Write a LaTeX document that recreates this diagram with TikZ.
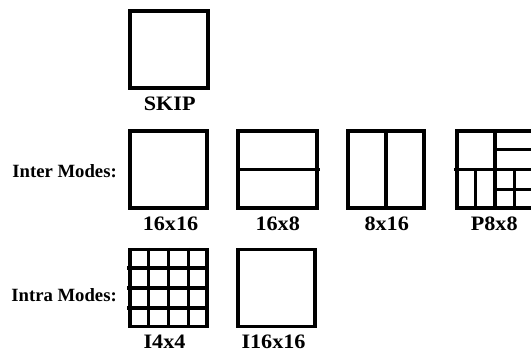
\documentclass[tikz,border=0pt]{standalone}
\usepackage{fontspec}
\setmainfont{Liberation Serif}
\newfontfamily\labfont[FakeStretch=1.08]{Liberation Serif}
\usetikzlibrary{calc}

\tikzset{
  blk/.style={draw, line width=3.3pt, rectangle, inner sep=0pt,
              minimum width=#1, minimum height=77pt},
  blk/.default=77pt,
  split/.style={line width=3.3pt},
  blklabel/.style={anchor=base, inner sep=0pt,
              font=\labfont\bfseries\fontsize{20.5}{22}\selectfont},
  rowlab/.style={anchor=base east, inner sep=0pt,
                 font=\bfseries\fontsize{18.7}{20}\selectfont}
}

\begin{document}
\begin{tikzpicture}[x=1pt, y=-1pt]
  \useasboundingbox (0,0) rectangle (531,352);

  % SKIP
  \node[blk=78pt] (skip) at (169,49.5) {};
  \node[blklabel] (skiplab) at (169.7,110.7) {SKIP};

  % inter partitions
  \node[rowlab] (inter) at (117,177.3) {Inter Modes:};

  \node[blk] (a) at (168.5,169.5) {};
  \node[blklabel] (alab) at (170.5,230.7) {16x16};

  \node[blk=79pt] (b) at (277.5,169.5) {};
  \draw[split] (b.west) -- ([xshift=1pt]b.east);
  \node[blklabel] (blab) at (277.7,230.7) {16x8};

  \node[blk=76pt] (c) at (386,169.5) {};
  \draw[split] (c.north) -- (c.south);
  \node[blklabel] (clab) at (386.7,230.7) {8x16};

  \node[blk=76pt] (p) at (495,169.5) {};
  \draw[split] (p.north) -- (p.south);
  \draw[split] ([xshift=-1pt]p.west) -- (p.east);
  % top right: two 8x4
  \draw[split] ($(p.north)!0.5!(p.center)$) -- ($(p.north east)!0.5!(p.east)$);
  % bottom left: two 4x8
  \draw[split] ($(p.west)!0.5!(p.center)$) -- ($(p.south west)!0.5!(p.south)$);
  % bottom right: four 4x4
  \draw[split] ($(p.center)!0.5!(p.east)$) -- ($(p.south)!0.5!(p.south east)$);
  \draw[split] ($(p.south)!0.5!(p.center)$) -- ($(p.south east)!0.5!(p.east)$);
  \node[blklabel] (plab) at (494.2,230.7) {P8x8};

  % intra partitions
  \node[rowlab] (intra) at (117,302) {Intra Modes:};

  \node[blk] (d) at (168.5,288) {};
  \foreach \f in {0.25,0.5,0.75} {
    \draw[split] ([xshift=-1pt]$(d.north west)!\f!(d.south west)$) -- ($(d.north east)!\f!(d.south east)$);
    \draw[split] ($(d.north west)!\f!(d.north east)$) -- ($(d.south west)!\f!(d.south east)$);
  }
  \node[blklabel] (dlab) at (164.5,349) {I4x4};

  \node[blk] (e) at (276.5,288) {};
  \node[blklabel] (elab) at (273.5,349) {I16x16};
\end{tikzpicture}
\end{document}
